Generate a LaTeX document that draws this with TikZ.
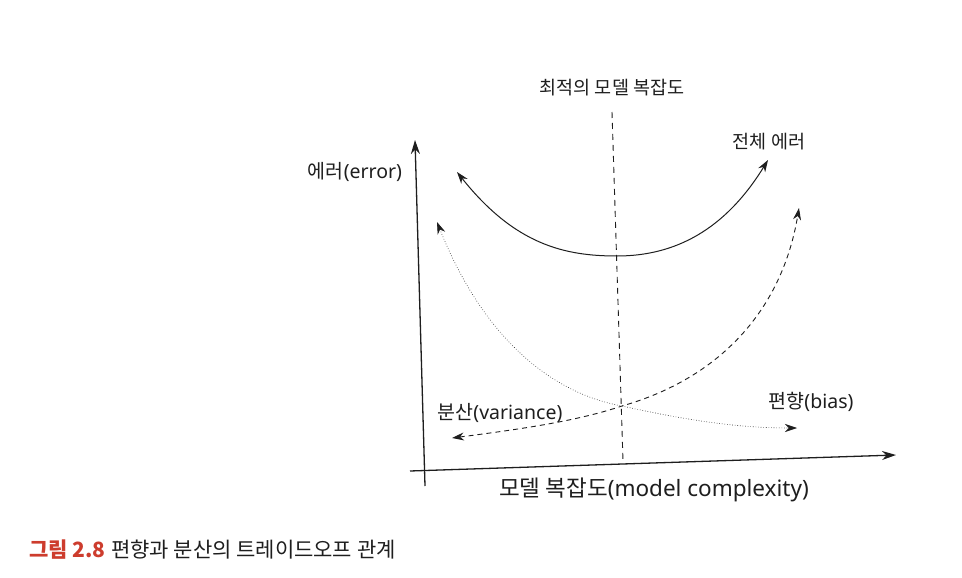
\documentclass[tikz,border=0pt]{standalone}
\usepackage{fontspec}
\setmainfont{Noto Sans}
\newfontfamily\kr{Noto Sans CJK KR}
\usetikzlibrary{arrows.meta}
\definecolor{capred}{RGB}{205,60,45}
\definecolor{ink}{RGB}{30,30,30}
\tikzset{
  lbl/.style={inner sep=0pt, text=ink, font=\fontsize{18.5}{22}\selectfont},
  lblb/.style={lbl, font=\fontsize{19.5}{23}\selectfont},
  axis/.style={draw=ink, line width=1.3pt, -{Stealth[length=14pt,width=9pt]}},
  curve/.style={draw=ink, line width=0.9pt},
  tip/.style={{Stealth[length=12pt,width=8pt]}-{Stealth[length=12pt,width=8pt]}},
}
\begin{document}
\begin{tikzpicture}[x=1pt,y=-1pt]
\useasboundingbox[fill=white] (0,0) rectangle (962,578);
% axes
\coordinate (yb) at (425,486);
\coordinate (yt) at (415,140);
\coordinate (xl) at (410,471);
\coordinate (xr) at (896,455);
\draw[axis] (yb) -- (yt);
\draw[axis] (xl) -- (xr);
% optimal line
\coordinate (ot) at (612,112);
\coordinate (ob) at (623,461);
\draw[curve, dash pattern=on 6pt off 5pt] (ot) -- (ob);
% total error
\coordinate (t1) at (457,172);
\coordinate (tm) at (617,256);
\coordinate (t2) at (768,160);
\draw[curve, line width=1pt, tip] (t1) .. controls (515,245) and (565,256) .. (tm) .. controls (675,256) and (725,230) .. (t2);
% dotted (bias)
\coordinate (d1) at (437,222);
\coordinate (c) at (622,406);
\coordinate (d2) at (797,428);
\draw[curve, line width=0.6pt, dotted, tip] (d1) .. controls (480,330) and (545,392) .. (c) .. controls (690,421) and (740,428) .. (d2);
% dashed (variance)
\coordinate (v1) at (452,438);
\coordinate (v2) at (799,208);
\draw[curve, dash pattern=on 5pt off 4pt, tip] (v1) .. controls (530,428) and (580,420) .. (c) .. controls (720,378) and (782,310) .. (v2);
% labels
\node[lbl] (lopt) at (612,88) {\kr 최적의 모델 복잡도};
\node[lbl] (ltot) at (769,142) {\kr 전체 에러};
\node[lblb] (ly) at (355,172) {{\kr 에러}(error)};
\node[lblb] (lvar) at (500,413) {{\kr 분산}(variance)};
\node[lblb] (lbias) at (811,402) {{\kr 편향}(bias)};
\node[lbl, font=\fontsize{22.5}{27}\selectfont] (lx) at (654,490) {{\kr 모델 복잡도}(model complexity)};
\node[lbl, anchor=west, font=\fontsize{21}{25}\selectfont] (cap) at (29,550) {\textcolor{capred}{\kr\bfseries 그림 2.8} {\kr 편향과 분산의 트레이드오프 관계}};
\end{tikzpicture}
\end{document}
